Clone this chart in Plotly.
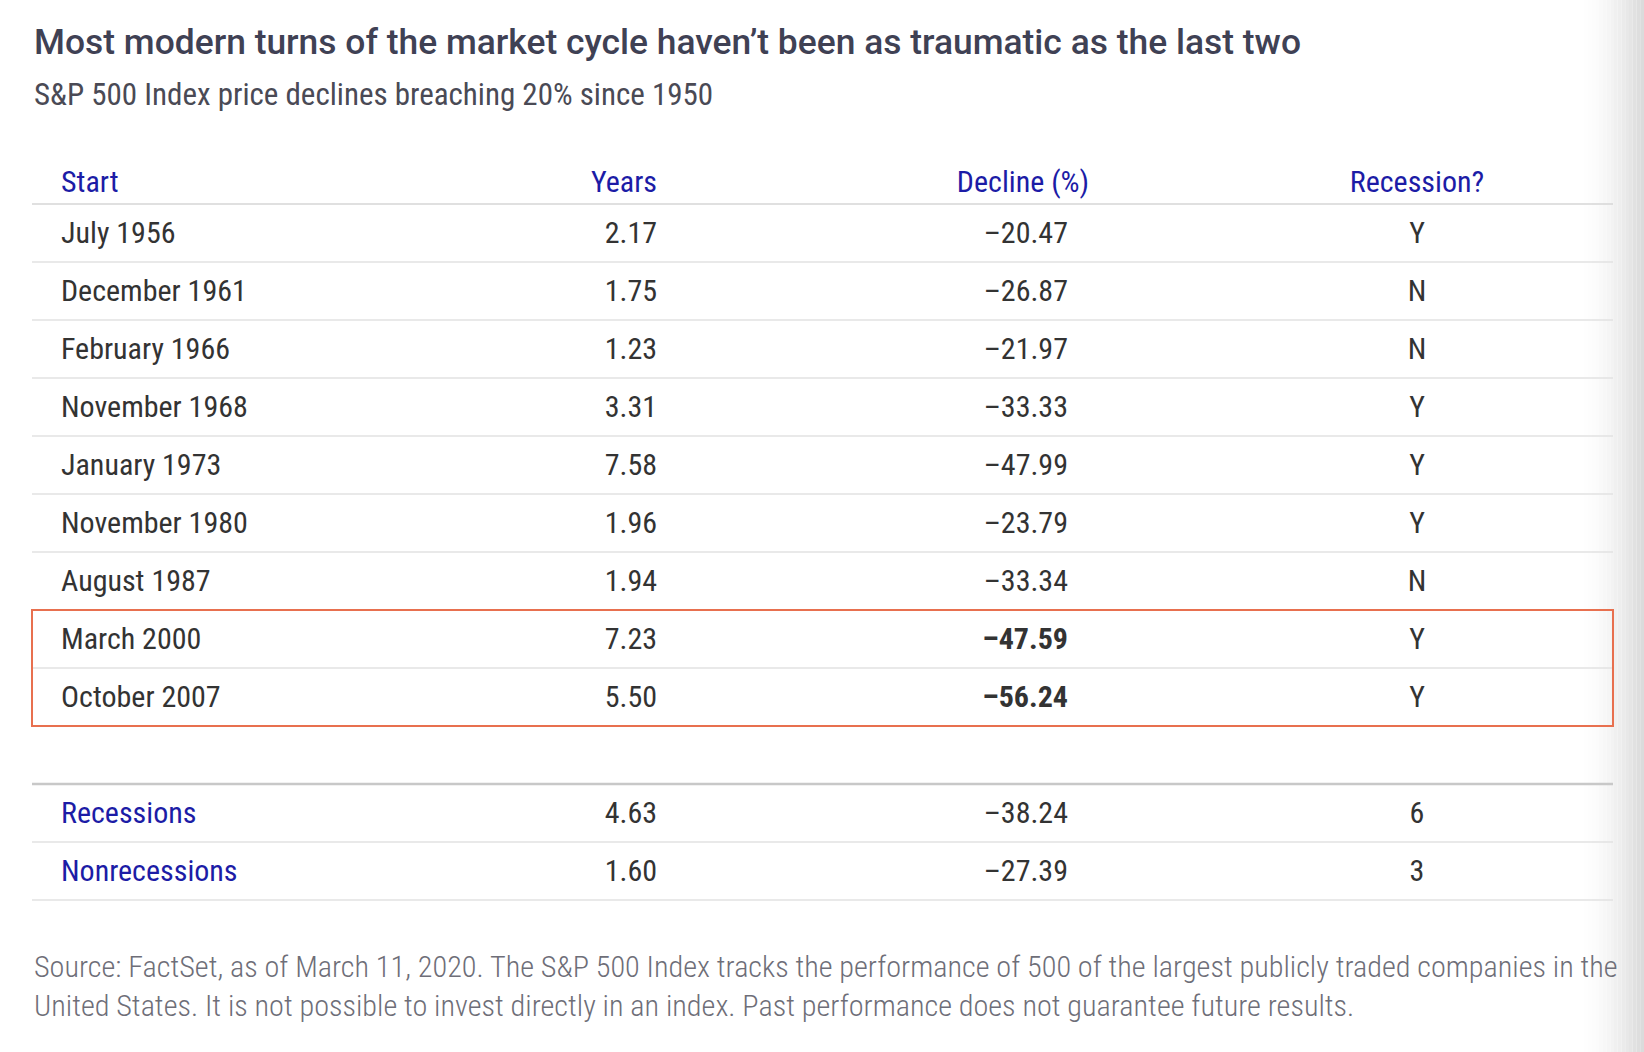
import plotly.graph_objects as go

# ---------------- data ----------------
starts = ["July 1956", "December 1961", "February 1966", "November 1968", "January 1973",
          "November 1980", "August 1987", "March 2000", "October 2007"]
years = [2.17, 1.75, 1.23, 3.31, 7.58, 1.96, 1.94, 7.23, 5.50]
declines = [-20.47, -26.87, -21.97, -33.33, -47.99, -23.79, -33.34, -47.59, -56.24]
recession = ["Y", "N", "N", "Y", "Y", "Y", "N", "Y", "Y"]
highlighted = ["March 2000", "October 2007"]

summary_labels = ["Recessions", "Nonrecessions"]
summary_years = [4.63, 1.60]
summary_declines = [-38.24, -27.39]
summary_counts = [6, 3]

headers = ["Start", "Years", "Decline (%)", "Recession?"]

title = "Most modern turns of the market cycle haven\u2019t been as traumatic as the last two"
subtitle = "S&P 500 Index price declines breaching 20% since 1950"
footnote = ("Source: FactSet, as of March 11, 2020. The S&P 500 Index tracks the performance of 500 of the "
            "largest publicly traded companies in the<br>United States. It is not possible to invest directly "
            "in an index. Past performance does not guarantee future results.")

# ---------------- style ----------------
W, H = 1644, 1052
FONT = "Roboto Condensed, Roboto, sans-serif"
TITLE_FONT = "Roboto, sans-serif"
TXT = "#333333"
BLUE = "#1c1ca6"
TITLE_C = "#3f4154"
SUB_C = "#4a4a55"
FOOT_C = "#6e6e78"
LINE_C = "#e2e2e2"
RED = "#e8704f"

X_START, X_YEARS, X_DECL, X_DECL_HDR, X_REC = 61, 657, 1068, 1023, 1417
X_L, X_R = 32, 1613
BODY = 30
TEXT_DY = 0.05  # small vertical nudge so text sits centred in its row

def fmt_dec(v):
    return "\u2013" + f"{abs(v):.2f}"

n = len(starts)
rows = list(range(n))
sum_rows = [n + 1 + i for i in range(len(summary_labels))]  # skip one blank row

fig = go.Figure()

def text_trace(xs, ys, texts, pos, color, size=BODY):
    fig.add_trace(go.Scatter(
        x=xs, y=[y + TEXT_DY for y in ys], text=texts, mode="text", textposition=pos,
        textfont=dict(family=FONT, size=size, color=color),
        hoverinfo="skip", showlegend=False, cliponaxis=False))

# main rows
text_trace([X_START] * n, rows, starts, "middle right", TXT)
text_trace([X_YEARS] * n, rows, [f"{v:.2f}" for v in years], "middle left", TXT)
text_trace([X_DECL] * n, rows,
           [("<b>" + fmt_dec(d) + "</b>") if s in highlighted else fmt_dec(d)
            for s, d in zip(starts, declines)], "middle left", TXT)
text_trace([X_REC] * n, rows, recession, "middle center", TXT)

# summary rows
text_trace([X_START] * len(sum_rows), sum_rows, summary_labels, "middle right", BLUE)
text_trace([X_YEARS] * len(sum_rows), sum_rows, [f"{v:.2f}" for v in summary_years], "middle left", TXT)
text_trace([X_DECL] * len(sum_rows), sum_rows, [fmt_dec(v) for v in summary_declines], "middle left", TXT)
text_trace([X_REC] * len(sum_rows), sum_rows, [str(v) for v in summary_counts], "middle center", TXT)

# header
HDR_Y = -0.88
text_trace([X_START], [HDR_Y], [headers[0]], "middle right", BLUE)
text_trace([X_YEARS], [HDR_Y], [headers[1]], "middle left", BLUE)
text_trace([X_DECL_HDR], [HDR_Y], [headers[2]], "middle center", BLUE)
text_trace([X_REC], [HDR_Y], [headers[3]], "middle center", BLUE)

shapes = []
def hline(y, color=LINE_C, width=1.5):
    shapes.append(dict(type="line", xref="x", yref="y", x0=X_L, x1=X_R, y0=y, y1=y,
                       line=dict(color=color, width=width)))

hline(-0.5, "#d6d6d6", 1.5)
hi_idx = [starts.index(s) for s in highlighted]
for i in range(n):
    b = i + 0.5
    if b < min(hi_idx) - 0.5 or (min(hi_idx) - 0.5 < b < max(hi_idx) + 0.5):
        hline(b)
hline(n + 0.5, "#c8c8c8", 2.5)
for r in sum_rows:
    hline(r + 0.5)

# red highlight box
shapes.append(dict(type="rect", xref="x", yref="y", x0=X_L, x1=X_R,
                   y0=min(hi_idx) - 0.5, y1=max(hi_idx) + 0.5,
                   line=dict(color=RED, width=2)))

# right-edge shadow gradient
steps = 16
for k in range(steps):
    x0 = 1584 + k * (W - 1584) / steps
    x1 = 1584 + (k + 1) * (W - 1584) / steps
    t = (k + 1) / steps
    g = int(255 - 36 * t ** 1.6)
    shapes.append(dict(type="rect", xref="x", yref="paper", x0=x0, x1=x1, y0=0, y1=1,
                       line=dict(width=0), fillcolor=f"rgb({g},{g},{g})", layer="below"))

annotations = [
    dict(text=title, x=32, y=42, xref="x", yref="paper", showarrow=False,
         xanchor="left", yanchor="middle",
         font=dict(family=TITLE_FONT, size=35.4, color=TITLE_C, weight=500)),
    dict(text=subtitle, x=32, y=94, xref="x", yref="paper", showarrow=False,
         xanchor="left", yanchor="middle", font=dict(family=FONT, size=31, color=SUB_C)),
    dict(text=footnote, x=32, y=986, xref="x", yref="paper", showarrow=False,
         xanchor="left", yanchor="middle", align="left",
         font=dict(family=FONT, size=30.2, color=FOOT_C, weight=300)),
]
for a in annotations:
    a["y"] = 1 - a["y"] / H

TOP_IDX = -233 / 58
BOT_IDX = (H - 233) / 58

fig.update_layout(
    width=W, height=H, margin=dict(l=0, r=0, t=0, b=0),
    paper_bgcolor="white", plot_bgcolor="white",
    xaxis=dict(range=[0, W], visible=False, fixedrange=True),
    yaxis=dict(range=[BOT_IDX, TOP_IDX], visible=False, fixedrange=True),
    shapes=shapes, annotations=annotations,
)

fig.write_html("out.html", config={"displayModeBar": False},
               post_script="document.body.style.margin='0';")
